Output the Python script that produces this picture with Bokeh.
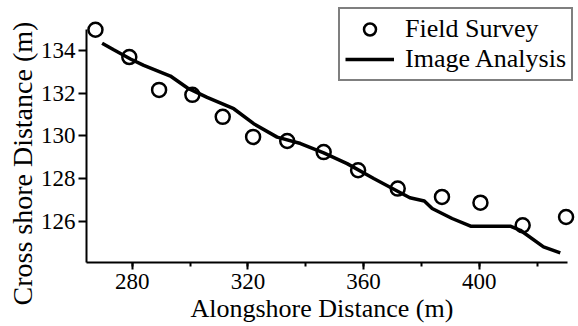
from bokeh.plotting import figure
from bokeh.models import Range1d, SingleIntervalTicker, Legend, LegendItem, Title
from bokeh.embed import file_html
from bokeh.resources import INLINE

# Field survey points (alongshore m, cross-shore m)
survey_x = [267.3, 279.0, 289.3, 300.8, 311.3, 321.8, 333.6, 346.2, 358.1, 371.8, 387.1, 400.4, 415.0, 430.0]
survey_y = [134.97, 133.69, 132.15, 131.92, 130.89, 129.95, 129.76, 129.24, 128.39, 127.53, 127.14, 126.87, 125.81, 126.20]

# Shoreline extracted by image analysis
image_x = [269.6, 273.6, 279.4, 284.0, 293.2, 299.0, 305.9, 315.1, 322.0, 330.1, 338.2, 346.2,
           354.3, 363.5, 371.6, 376.0, 381.0, 383.7, 390.6, 397.0, 410.7, 414.2, 422.2, 428.0]
image_y = [134.34, 134.03, 133.60, 133.30, 132.80, 132.25, 131.80, 131.27, 130.57, 129.94, 129.64, 129.20,
           128.70, 128.00, 127.42, 127.10, 126.95, 126.60, 126.13, 125.77, 125.77, 125.58, 124.80, 124.52]

x_label = "Alongshore Distance (m)"
y_label = "Cross shore Distance (m)"
series_names = ["Field Survey", "Image Analysis"]

FONT = "'Liberation Serif'"

X_MIN, X_MAX = 264.2, 430.4
Y_MIN, Y_MAX = 124.07, 135.0

# the frame reaches past the axes so the legend box is not clipped
p = figure(width=578, height=326, output_backend="svg", toolbar_location=None,
           x_range=Range1d(X_MIN, 434.3), y_range=Range1d(Y_MIN, 136.01),
           min_border_left=86, min_border_right=0, min_border_top=7, min_border_bottom=64)
p.outline_line_color = None
p.grid.visible = False
p.background_fill_color = "white"
p.border_fill_color = "white"

line_r = p.line(image_x, image_y, line_width=3.5, line_color="black")
pts_r = p.scatter(survey_x, survey_y, marker="circle", size=14, line_width=2.5,
                  line_color="black", fill_color=None)

p.xaxis.ticker = SingleIntervalTicker(interval=40, num_minor_ticks=2)
p.yaxis.ticker = SingleIntervalTicker(interval=2, num_minor_ticks=0)
# axis lines span only the data area
p.xaxis.bounds = (X_MIN, X_MAX)
p.yaxis.bounds = (Y_MIN, Y_MAX)

for ax in (p.xaxis[0], p.yaxis[0]):
    ax.axis_line_width = 2
    ax.axis_line_color = "black"
    ax.major_tick_line_width = 2
    ax.minor_tick_line_width = 2
    ax.major_tick_in = 0
    ax.minor_tick_in = 0
    ax.major_label_text_font = FONT
    ax.major_label_text_font_size = "23px"
    ax.major_label_text_color = "black"

p.xaxis.major_tick_out = 7
p.xaxis.minor_tick_out = 4
p.xaxis.major_label_standoff = 4

p.yaxis.major_tick_out = 8
p.yaxis.minor_tick_out = 0
p.yaxis.major_label_standoff = 3

# axis titles as side-panel titles so they can be placed along each axis
x_title = Title(text=x_label, align="left", offset=104, standoff=0,
                text_font=FONT, text_font_size="26px", text_font_style="normal",
                text_color="black")
p.add_layout(x_title, "below")

y_title = Title(text=y_label, align="left", offset=-43, standoff=0,
                text_font=FONT, text_font_size="28px", text_font_style="normal",
                text_color="black")
p.add_layout(y_title, "left")

legend = Legend(items=[LegendItem(label=series_names[0], renderers=[pts_r]),
                       LegendItem(label=series_names[1], renderers=[line_r])],
                location=(252, 181))
legend.label_text_font = FONT
legend.label_text_font_size = "26px"
legend.label_text_color = "black"
legend.glyph_width = 49
legend.glyph_height = 30
legend.label_height = 30
legend.label_standoff = 11
legend.spacing = 0
legend.padding = 5
legend.margin = 0
legend.border_line_color = "black"
legend.border_line_width = 2
legend.background_fill_alpha = 1
p.add_layout(legend)

open("out.html", "w").write(file_html(p, INLINE))
